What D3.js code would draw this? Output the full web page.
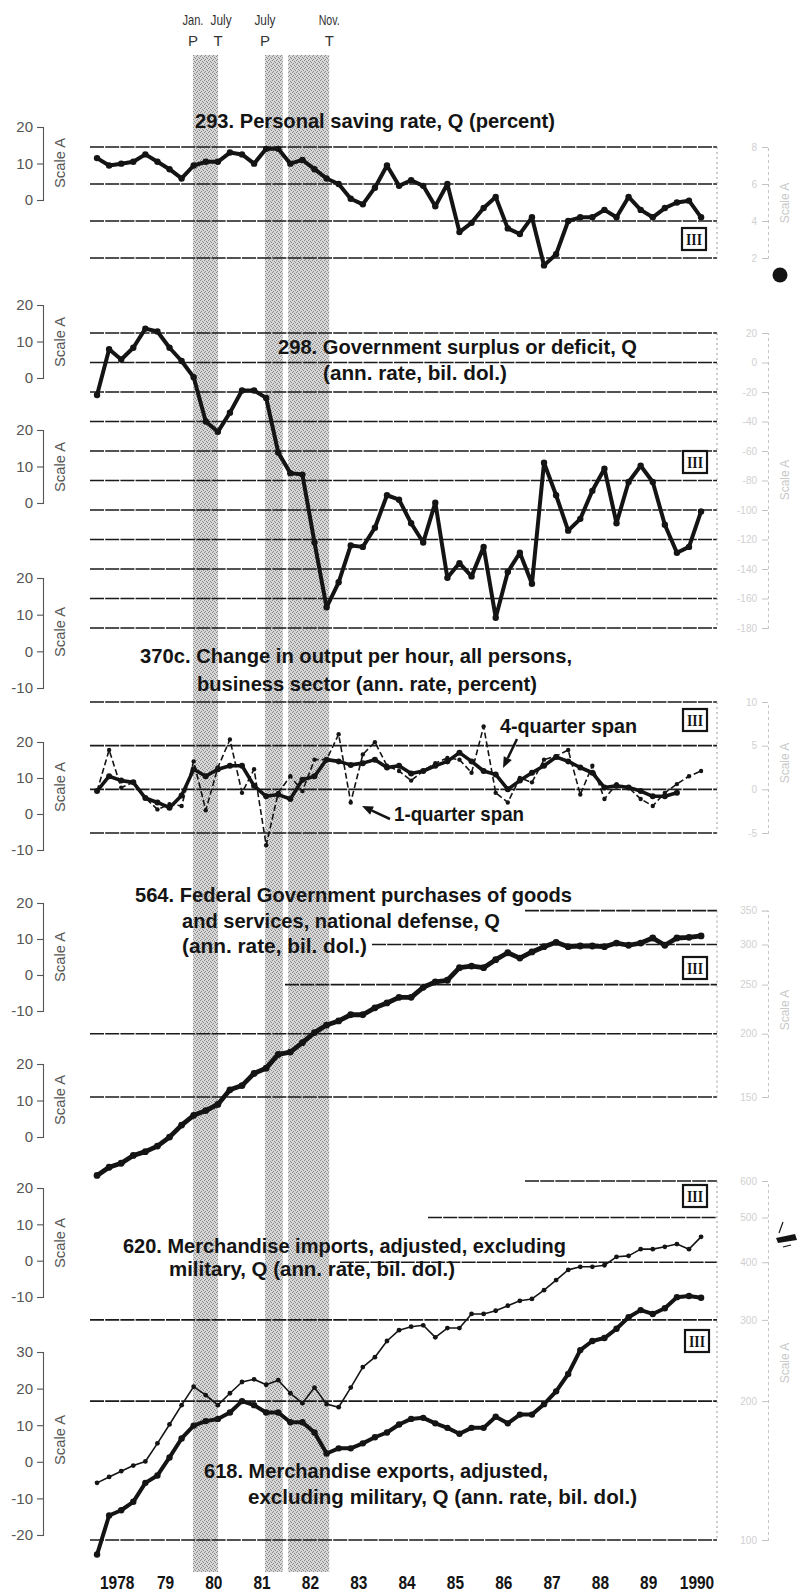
<!DOCTYPE html>
<html><head><meta charset="utf-8">
<script src="https://cdn.jsdelivr.net/npm/d3@7"></script>
<style>body{margin:0;background:#fff}svg{display:block}</style>
</head><body>
<svg id="c" width="803" height="1596"></svg>
<script>
// ---- Data (quarterly, 1978 Q1 onward) ----
const years = ["1978","79","80","81","82","83","84","85","86","87","88","89","1990"];
const turnMonths = ["Jan.","July","July","Nov."];
const turnKinds = ["P","T","P","T"];
const turnDates = [1980.11, 1980.63, 1981.60, 1982.93];
const shadeBands = [[1980.11, 1980.63], [1981.60, 1981.97], [1982.08, 1982.93]];

// 293. Personal saving rate (percent)
const savingRate = [7.4,7.0,7.1,7.2,7.6,7.2,6.8,6.3,7.0,7.2,7.2,7.7,7.6,7.1,7.9,7.9,7.1,7.3,6.8,6.3,
  6.0,5.2,4.9,5.8,7.0,5.9,6.2,5.9,4.8,6.0,3.4,3.9,4.7,5.3,3.6,3.3,4.2,1.6,2.2,4.0,
  4.2,4.2,4.6,4.2,5.3,4.6,4.2,4.7,5.0,5.1,4.2];
// 298. Government surplus or deficit (ann. rate, bil. dol.)
const govSurplus = [-22,9,2,10,23,21,10,1,-10,-40,-47,-34,-19,-19,-24,-61,-75,-76,-122,-166,
  -149,-124,-125,-112,-90,-93,-109,-122,-95,-146,-136,-145,-125,-173,-142,-129,-150,-68,-90,-114,
  -106,-87,-72,-109,-81,-70,-81,-110,-129,-125,-101];
// 370c. Change in output per hour, business sector (ann. rate, percent)
const output1Q = [-0.2,4.5,0.2,0.8,-1.0,-2.3,-1.7,-1.9,3.2,-2.4,2.5,5.7,-0.4,2.3,-6.4,-0.4,1.5,-0.2,3.4,3.4,
  6.3,-1.5,4.0,5.4,2.7,2.1,1.0,2.1,3.0,3.6,3.4,1.9,7.2,-0.4,-1.5,1.3,0.8,3.4,3.8,4.5,
  -0.6,2.7,-1.1,0.6,0.2,-1.1,-1.9,-0.4,0.6,1.5,2.1];
const output4Q = [-0.2,1.5,1.0,0.8,-1.0,-1.5,-2.1,-0.7,2.3,1.5,2.3,2.7,2.7,0.4,-0.8,-0.6,-1.1,1.1,1.5,3.4,
  3.2,2.8,3.0,3.4,2.5,2.7,1.8,2.1,2.7,3.2,4.2,3.2,2.1,1.7,0.0,1.0,1.9,2.7,3.7,3.2,
  2.5,1.9,0.2,0.4,0.2,-0.2,-0.8,-0.8,-0.4];
// 564. Federal Government purchases, national defense (ann. rate, bil. dol.)
const defensePurchases = [105,109,111,115,117,120,125,132,138,141,145,155,158,167,171,182,184,192,201,208,
  212,218,218,225,230,236,236,247,253,255,270,272,270,280,289,282,290,297,303,297,
  298,298,297,302,299,302,309,299,309,310,312];
// 620. Merchandise imports / 618. Merchandise exports (ann. rate, bil. dol.)
const importsAdj = [133,137,141,145,148,162,178,196,215,206,196,208,220,223,217,222,208,198,214,197,
  194,214,237,249,270,285,290,292,275,288,288,309,309,314,322,330,333,348,366,385,
  391,391,394,411,413,427,427,432,438,427,454];
const exportsAdj = [93,113,116,121,133,138,151,166,177,181,183,189,200,196,189,189,180,180,171,154,
  158,158,162,167,171,178,183,184,179,175,170,175,175,185,179,187,187,197,210,229,
  258,270,274,287,304,315,309,318,336,338,335];

// grid levels of each panel
const savingGrid = [8,6,4,2];
const govGrid = [20,0,-20,-40,-60,-80,-100,-120,-140,-160,-180];
const outputGrid = [10,5,0,-5];
const defenseGrid = [350,300,250,200,150];
const tradeGrid = [600,500,400,300,200,100];

// printed "Scale A" brackets down the left margin
const scaleATicks = [[0,10,20],[0,10,20],[0,10,20],[-10,0,10,20],[-10,0,10,20],[-10,0,10,20],[0,10,20],[-10,0,10,20],[-20,-10,0,10,20,30]];

// ---- Drawing ----
const svg = d3.select("#c");
const FONT = "'Liberation Sans', Arial, Helvetica, sans-serif";
const INK = "#141414";
const x = d3.scaleLinear().domain([1978, 1991]).range([91, 719.2]);
const qt = i => 1978 + (i + 0.5) / 4;
const plotR = 717;

// halftone fill for recession bands
const pat = svg.append("defs").append("pattern").attr("id", "halftone")
  .attr("width", 4).attr("height", 4).attr("patternUnits", "userSpaceOnUse");
pat.append("rect").attr("width", 4).attr("height", 4).attr("fill", "#d6d6d6");
[[0,0],[2,1],[1,3],[3,2]].forEach(([a,b]) =>
  pat.append("rect").attr("x", a).attr("y", b).attr("width", 1).attr("height", 1).attr("fill", "#8a8a8a"));

svg.append("g").selectAll("rect").data(shadeBands).join("rect")
  .attr("x", d => x(d[0])).attr("width", d => x(d[1]) - x(d[0]))
  .attr("y", 55).attr("height", 1517).attr("fill", "url(#halftone)");

// turning-point labels
const tp = svg.append("g").attr("font-family", FONT).attr("font-size", 15).attr("fill", "#333").attr("text-anchor", "middle");
turnDates.forEach((d, i) => {
  tp.append("text").attr("x", x(d) + (i === 1 ? 3 : 0)).attr("y", 25)
    .attr("textLength", 21).attr("lengthAdjust", "spacingAndGlyphs").text(turnMonths[i]);
  tp.append("text").attr("x", x(d)).attr("y", 46).text(turnKinds[i]);
});

// helpers
function text(str, x0, base, width, size, weight) {
  const t = svg.append("text").attr("x", x0).attr("y", base).text(str)
    .attr("font-family", FONT).attr("font-weight", weight || "bold")
    .attr("font-size", size).attr("fill", INK);
  if (width) t.attr("textLength", width).attr("lengthAdjust", "spacingAndGlyphs");
  return t;
}
function grid(levels, y, starts) {
  const g = svg.append("g");
  levels.forEach((v, i) => {
    g.append("line").attr("x1", starts[i]).attr("x2", plotR).attr("y1", y(v)).attr("y2", y(v))
      .attr("stroke", "#1a1a1a").attr("stroke-width", 1.6).attr("stroke-dasharray", "14,1.2");
  });
  g.append("line").attr("x1", plotR).attr("x2", plotR)
    .attr("y1", y(levels[0])).attr("y2", y(levels[levels.length - 1]))
    .attr("stroke", "#9a9a9a").attr("stroke-width", 1).attr("stroke-dasharray", "2,3");
}
function series(values, y, w, r, dash) {
  const pts = values.map((v, i) => ({ t: qt(i), v }));
  const g = svg.append("g");
  g.append("path").datum(pts)
    .attr("d", d3.line().x(d => x(d.t)).y(d => y(d.v)))
    .attr("fill", "none").attr("stroke", INK).attr("stroke-width", w)
    .attr("stroke-linejoin", "round").attr("stroke-dasharray", dash || null);
  g.selectAll("circle").data(pts).join("circle")
    .attr("cx", d => x(d.t)).attr("cy", d => y(d.v)).attr("r", r).attr("fill", INK);
}
function rightScale(levels, y, labelY) {
  const g = svg.append("g").attr("transform", "translate(768,0)")
    .call(d3.axisLeft(y).tickValues(levels).tickSize(6).tickPadding(5).tickFormat(d => String(d)));
  g.select(".domain").attr("stroke", "#c4c4c4").attr("stroke-dasharray", "3,3");
  g.selectAll(".tick line").attr("stroke", "#c4c4c4");
  g.selectAll(".tick text").attr("fill", "#d0d0d0").attr("font-size", 10).attr("font-family", FONT);
  svg.append("text").attr("transform", `translate(789,${labelY}) rotate(-90)`)
    .attr("text-anchor", "middle").attr("font-family", FONT).attr("font-size", 12)
    .attr("fill", "#c8c8c8").text("Scale A");
}
function box(x0, y0) {
  svg.append("rect").attr("x", x0).attr("y", y0).attr("width", 24).attr("height", 22)
    .attr("fill", "#fff").attr("stroke", INK).attr("stroke-width", 2.2);
  svg.append("text").attr("x", x0 + 12).attr("y", y0 + 17).attr("text-anchor", "middle")
    .attr("font-family", "'Liberation Serif', 'Times New Roman', serif").attr("font-weight", "bold")
    .attr("font-size", 17).attr("fill", INK).attr("textLength", 16).attr("lengthAdjust", "spacingAndGlyphs").text("III");
}
function arrow(x1, y1, x2, y2) {
  const a = Math.atan2(y2 - y1, x2 - x1), L = 11, W = 4.5;
  const bx = x2 - L * Math.cos(a), by = y2 - L * Math.sin(a);
  svg.append("line").attr("x1", x1).attr("y1", y1).attr("x2", bx).attr("y2", by)
    .attr("stroke", INK).attr("stroke-width", 2.5);
  svg.append("path").attr("fill", INK).attr("d",
    `M${x2},${y2}L${bx + W * Math.sin(a)},${by - W * Math.cos(a)}L${bx - W * Math.sin(a)},${by + W * Math.cos(a)}Z`);
}

// left "Scale A" brackets
const scaleARanges = [[200,127],[378,305],[503,430],[688,578],[850,742],[1011,903],[1137,1064],[1297,1188],[1535,1352]];
const scaleALabelY = [163,342,467,632,787,957,1100,1243,1440];
scaleATicks.forEach((ticks, i) => {
  const s = d3.scaleLinear().domain(d3.extent(ticks)).range(scaleARanges[i]);
  const g = svg.append("g").attr("transform", "translate(43,0)")
    .call(d3.axisLeft(s).tickValues(ticks).tickSize(6).tickPadding(4).tickFormat(d => String(d)));
  g.selectAll(".domain, .tick line").attr("stroke", "#555").attr("stroke-width", 1.1);
  g.selectAll(".tick text").attr("fill", "#555").attr("font-size", 15).attr("font-family", FONT);
  svg.append("text").attr("transform", `translate(65,${scaleALabelY[i]}) rotate(-90)`)
    .attr("text-anchor", "middle").attr("font-family", FONT).attr("font-size", 15)
    .attr("fill", "#555").attr("textLength", 50).attr("lengthAdjust", "spacingAndGlyphs").text("Scale A");
});

// Panel 1: personal saving rate
const y1 = d3.scaleLinear().domain([2, 8]).range([258, 147]);
grid(savingGrid, y1, [90,90,90,90]);
rightScale(savingGrid, y1, 203);
series(savingRate, y1, 4, 3.2);
text("293. Personal saving rate, Q (percent)", 195, 128, 360, 21);
box(682, 228);

// Panel 2: government surplus or deficit
const y2 = d3.scaleLinear().domain([-180, 20]).range([628, 333]);
grid(govGrid, y2, govGrid.map(() => 90));
rightScale(govGrid, y2, 480);
series(govSurplus, y2, 4, 3.2);
text("298. Government surplus or deficit, Q", 278, 354, 359, 21);
text("(ann. rate, bil. dol.)", 323, 380, 184, 21);
box(683, 451);

// Panel 3: output per hour
const y3 = d3.scaleLinear().domain([-5, 10]).range([833, 702]);
grid(outputGrid, y3, [90,90,90,90]);
rightScale(outputGrid, y3, 763);
series(output1Q, y3, 1.6, 2.2, "6,3");
series(output4Q, y3, 3.6, 3);
text("370c. Change in output per hour, all persons,", 140, 663, 432, 21);
text("business sector (ann. rate, percent)", 197, 691, 340, 21);
text("4-quarter span", 500, 733, 137, 21);
text("1-quarter span", 394, 821, 130, 21);
arrow(517, 739, 503, 768);
arrow(390, 819, 362, 806);
box(683, 709);

// Panel 4: national defense purchases
const y4 = d3.scaleLog().domain([150, 350]).range([1097, 910.6]);
grid(defenseGrid, y4, [525, 372, 285, 90, 90]);
rightScale(defenseGrid, y4, 1010);
series(defensePurchases, y4, 4.8, 3.4);
text("564. Federal Government purchases of goods", 135, 902, 437, 21);
text("and services, national defense, Q", 182, 928, 318, 21);
text("(ann. rate, bil. dol.)", 182, 953, 185, 21);
box(683, 957);

// Panel 5: merchandise imports and exports
const y5 = d3.scaleLog().domain([100, 600]).range([1540, 1181]);
grid(tradeGrid, y5, [525, 428, 340, 90, 90, 90]);
rightScale(tradeGrid, y5, 1363);
series(importsAdj, y5, 1.6, 2.4);
series(exportsAdj, y5, 4, 3.2);
text("620. Merchandise imports, adjusted, excluding", 123, 1253, 443, 21);
text("military, Q (ann. rate, bil. dol.)", 169, 1276, 286, 21);
text("618. Merchandise exports, adjusted,", 204, 1478, 344, 21);
text("excluding military, Q (ann. rate, bil. dol.)", 248, 1504, 389, 21);
box(683, 1185);
box(685, 1330);

// year labels
svg.append("g").selectAll("text").data(years).join("text")
  .attr("x", (d, i) => x(1978 + i + 0.5) + 2).attr("y", 1589)
  .attr("text-anchor", "middle").attr("font-family", FONT).attr("font-weight", "bold")
  .attr("font-size", 19).attr("fill", INK)
  .attr("textLength", d => d.length * 8.6).attr("lengthAdjust", "spacingAndGlyphs")
  .text(d => d);

// ink marks in the right margin
svg.append("circle").attr("cx", 780).attr("cy", 275).attr("r", 7.5).attr("fill", INK);
svg.append("path").attr("fill", INK).attr("d", "M776,1238L795,1234L797,1240L778,1243Z");
svg.append("path").attr("stroke", INK).attr("stroke-width", 1.2).attr("fill", "none")
  .attr("d", "M779,1233L783,1222M783,1247L791,1245");
</script>
</body></html>
